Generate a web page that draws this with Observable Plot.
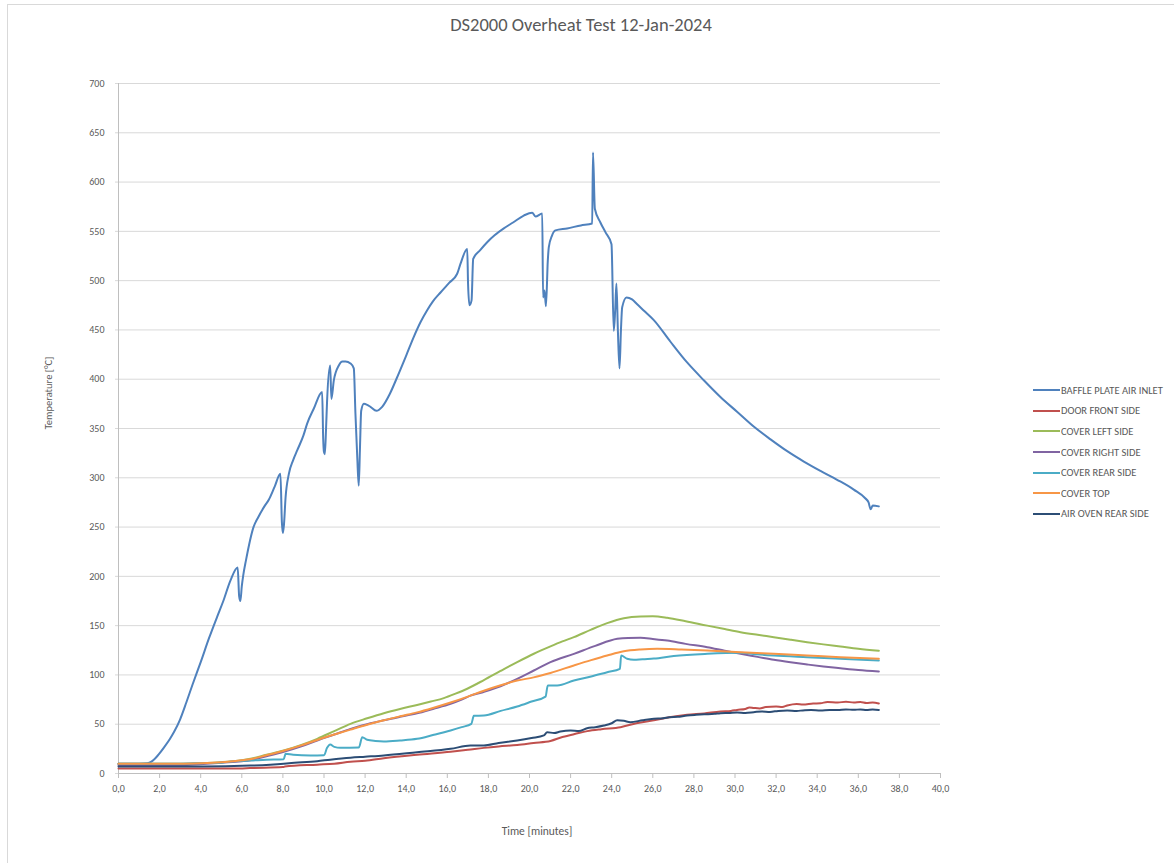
<!DOCTYPE html>
<html>
<head>
<meta charset="utf-8">
<script src="https://cdn.jsdelivr.net/npm/d3@7"></script>
<script src="https://cdn.jsdelivr.net/npm/@observablehq/plot@0.6"></script>
<style>
  html, body { margin: 0; padding: 0; background: #fff; }
  #wrap { position: relative; width: 1174px; height: 863px; overflow: hidden;
          font-family: Calibri, Carlito, "Liberation Sans Narrow", Lato, "Open Sans", sans-serif; color: #595959; }
  #frame { position: absolute; left: 7px; top: 4px; width: 1200px; height: 900px;
           border-left: 1px solid #d9d9d9; border-top: 1px solid #d9d9d9; box-sizing: border-box; }
  #title { position: absolute; left: 0; width: 1162px; top: 13px; text-align: center; font-size: 18.5px; color: #595959; padding-left: 0; }
  #ylab { position: absolute; left: 48px; top: 393px; transform: translate(-50%, -50%) rotate(-90deg);
          font-size: 10.5px; white-space: nowrap; }
  #xlab { position: absolute; left: 537px; top: 831px; transform: translate(-50%, -50%); font-size: 11.5px; white-space: nowrap; }
  #legend { position: absolute; left: 1033px; top: 380px; font-size: 10.5px; }
  .item { display: flex; align-items: center; height: 20.6px; white-space: nowrap; }
  .sw { width: 27px; height: 2px; margin-right: 1px; }
  #chart { position: absolute; left: 0; top: 0; }
</style>
</head>
<body>
<div id="wrap">
  <div id="frame"></div>
  <div id="chart"></div>
  <div id="title">DS2000 Overheat Test 12-Jan-2024</div>
  <div id="ylab">Temperature [°C]</div>
  <div id="xlab">Time [minutes]</div>
  <div id="legend"></div>
</div>
<script>
const xTicks = [0,2,4,6,8,10,12,14,16,18,20,22,24,26,28,30,32,34,36,38,40];
const yTicks = [0,50,100,150,200,250,300,350,400,450,500,550,600,650,700];

const seriesNames = ["BAFFLE PLATE AIR INLET","DOOR FRONT SIDE","COVER LEFT SIDE","COVER RIGHT SIDE","COVER REAR SIDE","COVER TOP","AIR OVEN REAR SIDE"];
const seriesColors = ["#4F81BD","#C0504D","#9BBB59","#8064A2","#4BACC6","#F79646","#2C4D75"];

// [time in minutes, temperature °C]
const baffle = [[0,10],[1.0,10],[1.4,10.5],[1.6,12],[1.9,18],[2.2,26],[2.5,35],[2.7,42],[3.0,55],[3.3,72],[3.6,90],[4.0,113],[4.4,137],[4.8,159],[5.1,175],[5.45,196],[5.8,209],[5.87,180],[5.93,175],[6.0,190],[6.07,201],[6.2,216],[6.57,250],[6.8,260],[7.1,271],[7.32,278],[7.6,291],[7.88,304],[7.95,255],[8.0,244],[8.05,252],[8.13,280],[8.29,304],[8.5,318],[8.7,328],[9.0,343],[9.18,355],[9.5,370],[9.91,387],[9.96,340],[10.0,326],[10.04,324],[10.1,350],[10.15,378],[10.3,414],[10.36,380],[10.48,399],[10.72,414],[10.9,418],[11.05,418],[11.29,416],[11.45,411],[11.53,365],[11.62,320],[11.69,292],[11.75,330],[11.81,368],[11.94,375],[12.1,374],[12.26,372],[12.55,368],[12.83,372],[13.2,385],[13.56,402],[14.0,424],[14.37,443],[14.7,458],[15.02,470],[15.3,479],[15.67,488],[16.1,498],[16.48,507],[16.64,517],[16.97,532],[17.01,497],[17.08,475],[17.18,480],[17.26,522],[17.6,531],[17.94,539],[18.3,546],[18.75,553],[19.2,559],[19.72,566],[20.13,569],[20.29,565],[20.62,568],[20.66,483],[20.73,490],[20.80,474],[20.89,520],[20.94,534],[21.1,546],[21.26,551],[21.83,553],[22.5,556],[23.05,558],[23.09,630],[23.18,573],[23.45,559],[23.7,549],[23.99,537],[24.10,449],[24.17,470],[24.23,497],[24.3,450],[24.38,411],[24.45,450],[24.51,473],[24.72,483],[24.99,481],[25.24,476],[25.6,469],[26.05,460],[26.86,438],[27.67,417],[28.48,399],[29.29,382],[30.10,367],[30.91,352],[31.73,339],[32.54,327],[33.35,316.5],[34.16,307],[34.97,298],[35.78,288],[36.35,279],[36.5,275],[36.6,268],[36.7,272],[37.0,271]];

const doorFront = [[0,5],[2,5],[4,5],[5.9,5],[6.4,5.5],[8.0,6.5],[8.1,7],[9.67,9],[10.5,10],[11.29,12],[12.0,13],[12.91,15.5],[14.53,19],[16.16,22],[17.0,24],[17.78,26],[18.5,27.5],[19.4,29],[20.2,31],[21.02,33],[21.6,37],[22.2,40],[22.81,43],[23.5,45],[24.43,47],[25.2,51],[26.05,54],[26.8,57],[27.67,59.5],[28.5,61],[29.29,63],[29.8,63.5],[30.1,64.5],[30.5,65.5],[30.7,67],[30.91,66.5],[31.2,66],[31.5,67.5],[32.0,68],[32.3,67.5],[32.54,69],[33.0,70.5],[33.3,70],[33.8,71],[34.16,71.3],[34.5,72.5],[35.0,72],[35.4,72.8],[35.78,72],[36.1,72.5],[36.4,71.5],[36.7,72],[37.0,71]];

const coverLeft = [[0,10],[3,10],[4,10.5],[5,11.5],[6.0,13.5],[6.42,15],[7.2,19],[8.04,23.3],[8.9,29],[9.67,35.2],[10.5,43],[11.29,50.4],[12.1,56],[12.91,61.2],[13.7,65.5],[14.53,69.5],[15.2,73],[15.83,76.5],[16.4,81],[16.97,86],[17.8,95],[18.59,104],[19.4,113],[20.21,121.5],[21.02,129],[21.6,134],[22.16,138.3],[23.0,146],[23.78,152.5],[24.59,157.5],[25.40,159.3],[26.0,159.5],[26.70,158],[27.6,154.5],[28.65,150],[29.5,146.5],[30.27,143.4],[31.1,140.7],[31.89,138.3],[32.7,135.7],[33.51,133.2],[34.3,131],[35.13,128.8],[36.0,126.5],[37.0,124.5]];

const coverRight = [[0,8.5],[3,8.5],[4,9.5],[5,11],[6.0,12.5],[6.42,13.5],[7.2,17.5],[8.04,22],[8.9,27.5],[9.67,33.5],[10.5,39.5],[11.29,45.3],[12.1,50],[12.91,54],[13.7,57.5],[14.53,61],[15.3,65.5],[16.16,70.7],[16.7,75],[17.13,79],[17.8,83],[18.59,88.5],[19.4,96],[20.21,104.5],[21.02,113],[22.16,121.4],[23.2,129.5],[24.27,136.6],[24.8,137.5],[25.40,137.6],[26.0,136.5],[26.70,134.9],[27.6,131.5],[28.65,128.1],[29.5,124.5],[30.27,121.4],[31.1,118.3],[31.89,115.3],[32.7,112.8],[33.51,110.6],[34.3,108.6],[35.13,106.8],[36.0,105],[37.0,103.5]];

const coverRear = [[0,10],[3,10],[4,10.5],[5,11],[5.6,12.5],[6.42,13.2],[7.2,14],[8.04,14.5],[8.13,20],[8.5,19],[9.34,18.3],[10.0,18.5],[10.15,26],[10.3,29.4],[10.5,27],[10.8,26],[11.7,26.5],[11.86,36.8],[12.1,34.2],[12.5,33],[12.91,32.5],[13.7,33.5],[14.53,35.2],[15.3,39],[16.16,43.6],[16.7,47],[17.17,50.4],[17.29,58.5],[17.78,58.8],[18.6,63.5],[19.4,68],[20.1,73],[20.78,78],[20.89,89.3],[21.35,89.3],[22.16,94.3],[23.0,98.5],[23.78,102.8],[24.40,106.2],[24.46,119.7],[24.75,116.4],[25.08,115.3],[25.5,116],[26.05,116.6],[27.02,119.2],[28.65,121.4],[30.27,122.4],[31.0,121],[31.89,119.7],[33.51,118],[35.13,116.4],[37.0,114.6]];

const coverTop = [[0,10],[3,10],[4,10.5],[5,11.5],[6.0,13.5],[6.42,14.5],[7.2,18.5],[8.04,23],[8.9,28.5],[9.67,34],[10.5,39.5],[11.29,44.5],[12.1,49.5],[12.91,54],[13.7,58],[14.53,62],[15.3,66.5],[16.16,72],[17.0,78],[17.78,84],[18.6,89.5],[19.4,94.3],[20.2,97.5],[21.02,102],[22.16,109.6],[23.0,115],[23.78,119.7],[24.59,124],[25.4,125.8],[26.21,126.5],[27.4,125.8],[28.65,124.8],[30.27,123],[31.89,121.4],[33.51,119.7],[35.13,118],[37.0,116.4]];

const airOvenRear = [[0,7],[4,7],[6.42,8],[8.04,10],[8.3,10.5],[9.67,12.5],[10.3,14],[11.29,16],[12.0,17],[12.91,18.3],[14.53,21.6],[16.16,25],[17.13,28.4],[17.78,28.4],[18.5,31],[19.4,33.5],[20.1,36],[20.7,38.6],[20.86,41.9],[21.2,41],[21.5,42.5],[22.0,43.6],[22.4,43],[22.8,46],[23.2,47],[23.62,48.7],[24.0,51],[24.27,54],[24.59,53.5],[24.91,52],[25.5,54],[26.05,55.5],[26.5,56],[26.8,57],[27.2,57.5],[27.67,58.8],[28.1,59.5],[28.5,60],[29.0,60.5],[29.29,61.2],[29.7,61.5],[30.1,62],[30.5,61.5],[30.91,62.2],[31.3,63],[31.7,62.5],[32.1,63.5],[32.54,64],[33.0,63.5],[33.3,64],[33.7,64.5],[34.16,64],[34.6,64.5],[35.0,64.3],[35.4,65],[35.78,64.6],[36.1,65],[36.4,64.5],[36.7,65],[37.0,64.5]];

const seriesData = [baffle, doorFront, coverLeft, coverRight, coverRear, coverTop, airOvenRear];
const rows = seriesData.flatMap((pts, i) => pts.map(([t, v]) => ({t, v, s: seriesNames[i]})));

const fmt = d => d.toFixed(1).replace(".", ",");

const chart = Plot.plot({
  width: 1174,
  height: 863,
  marginLeft: 118,
  marginRight: 234,
  marginTop: 83,
  marginBottom: 90,
  style: {fontFamily: 'Calibri, Carlito, "Liberation Sans Narrow", Lato, "Open Sans", sans-serif', fontSize: "10px", color: "#595959", background: "transparent"},
  x: {domain: [0, 40]},
  y: {domain: [0, 700]},
  color: {domain: seriesNames, range: seriesColors},
  marks: [
    Plot.gridY(yTicks, {stroke: "#d9d9d9", strokeOpacity: 1, strokeWidth: 1}),
    Plot.axisY(yTicks, {tickSize: 3, tickPadding: 11, stroke: "#d9d9d9", label: null, fill: "#595959"}),
    Plot.axisX(xTicks, {tickSize: 5, tickPadding: 6, stroke: "#bfbfbf", tickFormat: fmt, label: null, fill: "#595959"}),
    Plot.ruleX([0], {stroke: "#bfbfbf"}),
    Plot.ruleY([0], {stroke: "#bfbfbf"}),
    Plot.line(rows, {x: "t", y: "v", z: "s", stroke: "s", curve: "monotone-x", strokeWidth: 2})
  ]
});
document.getElementById("chart").appendChild(chart);

const legend = document.getElementById("legend");
seriesNames.forEach((n, i) => {
  const item = document.createElement("div");
  item.className = "item";
  const sw = document.createElement("div");
  sw.className = "sw";
  sw.style.background = seriesColors[i];
  const tx = document.createElement("span");
  tx.textContent = n;
  item.appendChild(sw);
  item.appendChild(tx);
  legend.appendChild(item);
});
</script>
</body>
</html>
